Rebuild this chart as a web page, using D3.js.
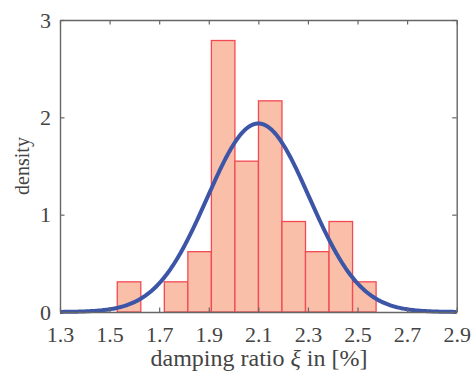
<!DOCTYPE html>
<html>
<head>
<meta charset="utf-8">
<script src="https://cdn.jsdelivr.net/npm/d3@7"></script>
<style>
  html, body { margin: 0; padding: 0; background: #fff; }
  svg { display: block; }
  text { font-family: "Liberation Serif", "Times New Roman", serif; fill: #444; }
</style>
</head>
<body>
<svg id="chart" width="474" height="376"></svg>
<script>
// Histogram of identified damping ratios (density-normalised), with fitted normal curve
const binStart = 1.531;
const binWidth = 0.0949;
const binCounts = [1, 0, 1, 2, 9, 5, 7, 3, 2, 3, 1];
const sampleSize = 34;

// Normal fit parameters
const fitMean = 2.1;
const fitStd = 0.206;

const xTicks = [1.3, 1.5, 1.7, 1.9, 2.1, 2.3, 2.5, 2.7, 2.9];
const yTicks = [0, 1, 2, 3];

const margin = { left: 60, top: 20, right: 474 - 456.7, bottom: 376 - 312 };
const W = 474, H = 376;

const svg = d3.select("#chart");

const x = d3.scaleLinear().domain([1.3, 2.9]).range([margin.left, W - margin.right]);
const y = d3.scaleLinear().domain([0, 3]).range([H - margin.bottom, margin.top]);

const bins = binCounts.map((c, i) => ({
  x0: binStart + i * binWidth,
  x1: binStart + (i + 1) * binWidth,
  density: c / (sampleSize * binWidth)
}));

// bars
svg.append("g")
  .selectAll("rect")
  .data(bins.filter(b => b.density > 0))
  .join("rect")
  .attr("x", d => x(d.x0))
  .attr("y", d => y(d.density))
  .attr("width", d => x(d.x1) - x(d.x0))
  .attr("height", d => y(0) - y(d.density))
  .attr("fill", "#f9bfa9")
  .attr("stroke", "#f24a52")
  .attr("stroke-width", 1.3);

// fitted normal density curve
const pdf = v => Math.exp(-0.5 * ((v - fitMean) / fitStd) ** 2) / (fitStd * Math.sqrt(2 * Math.PI));
const curveXs = d3.range(1.3, 2.9001, 0.005);
svg.append("path")
  .datum(curveXs)
  .attr("fill", "none")
  .attr("stroke", "#3d55a6")
  .attr("stroke-width", 4)
  .attr("stroke-linejoin", "round")
  .attr("d", d3.line().x(v => x(v)).y(v => y(pdf(v))));

// axes (box with inward ticks)
const axisColor = "#666";
const tickLen = 4.5;

function styleAxis(g) {
  g.select(".domain").attr("stroke", axisColor).attr("stroke-width", 1.4);
  g.selectAll(".tick line").attr("stroke", axisColor).attr("stroke-width", 1.2);
  g.selectAll(".tick text").attr("fill", "#444").style("font-size", "22px")
    .style("font-family", "'Liberation Serif', 'Times New Roman', serif");
}

svg.append("g")
  .attr("transform", `translate(0,${y(0)})`)
  .call(d3.axisBottom(x).tickValues(xTicks).tickFormat(d3.format(".1f"))
    .tickSizeInner(-tickLen).tickSizeOuter(0).tickPadding(14))
  .call(styleAxis);

svg.append("g")
  .attr("transform", `translate(${x(1.3)},0)`)
  .call(d3.axisLeft(y).tickValues(yTicks).tickFormat(d3.format("d"))
    .tickSizeInner(-tickLen).tickSizeOuter(0).tickPadding(9))
  .call(styleAxis);

svg.append("g")
  .attr("transform", `translate(0,${y(3)})`)
  .call(d3.axisTop(x).tickValues(xTicks).tickFormat("")
    .tickSizeInner(-tickLen).tickSizeOuter(0))
  .call(styleAxis);

svg.append("g")
  .attr("transform", `translate(${x(2.9)},0)`)
  .call(d3.axisRight(y).tickValues(yTicks).tickFormat("")
    .tickSizeInner(-tickLen).tickSizeOuter(0))
  .call(styleAxis);

// axis titles
const xTitle = svg.append("text")
  .attr("x", 259)
  .attr("y", 366)
  .attr("text-anchor", "middle")
  .style("font-size", "24px");
xTitle.append("tspan").text("damping ratio ");
xTitle.append("tspan").attr("font-style", "italic").text("ξ");
xTitle.append("tspan").text(" in [%]");

svg.append("text")
  .attr("transform", `translate(29,${(y(0) + y(3)) / 2}) rotate(-90)`)
  .attr("text-anchor", "middle")
  .style("font-size", "20px")
  .text("density");
</script>
</body>
</html>
